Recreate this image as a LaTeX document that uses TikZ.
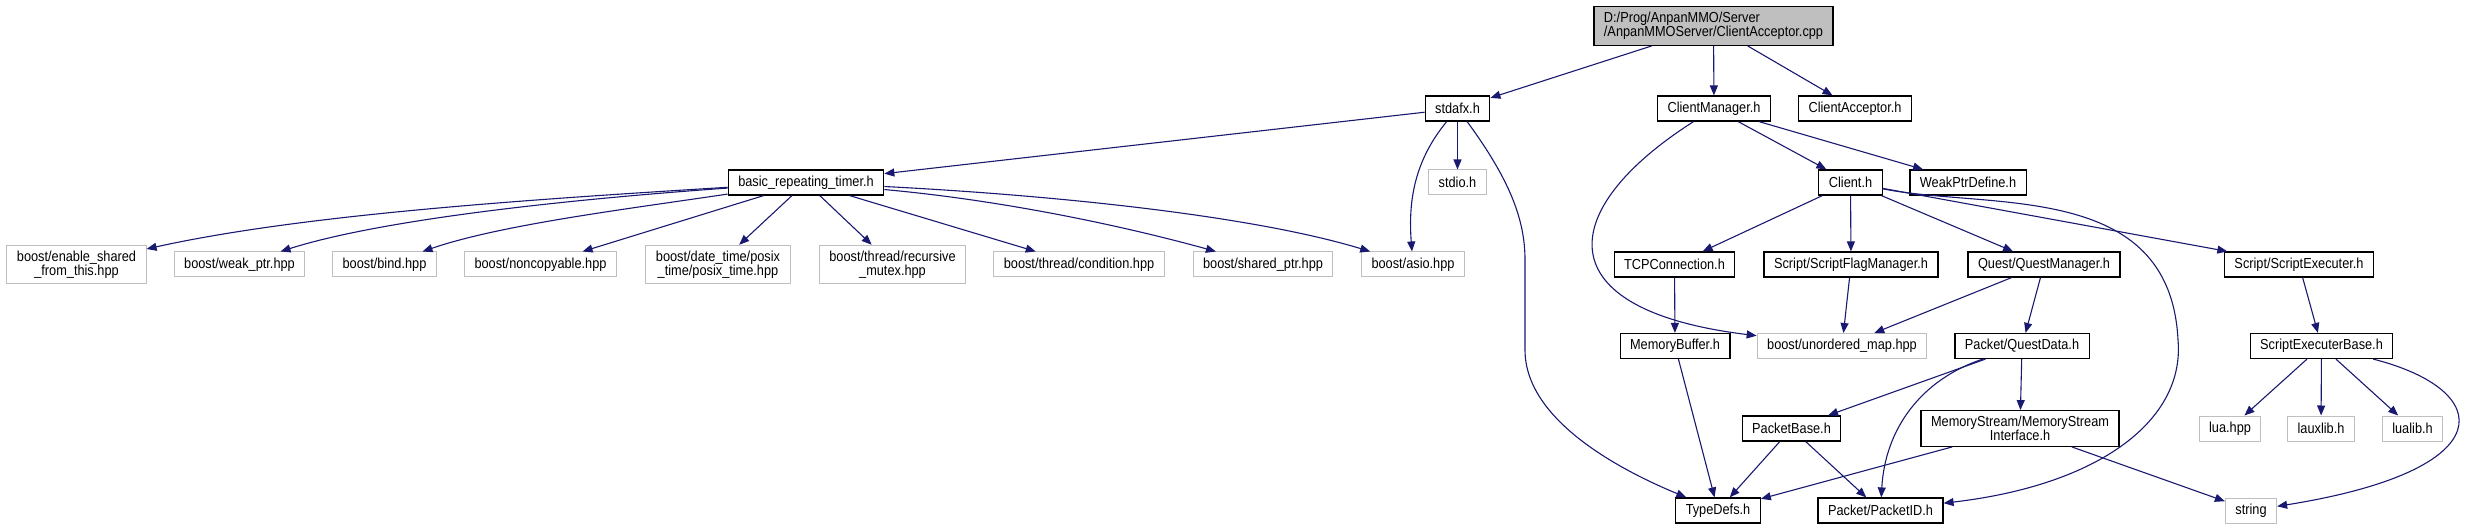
\documentclass[tikz,border=0pt]{standalone}
\usepackage{fontspec}
\setmainfont{Liberation Sans}[FakeStretch=0.88]
\usetikzlibrary{arrows.meta}
\definecolor{edgeblue}{HTML}{191970}
\definecolor{extgray}{HTML}{BFBFBF}

\begin{document}
\begin{tikzpicture}[
  x=1pt, y=-1pt,
  file/.style={rectangle, draw=black, fill=white, line width=1.2pt,
    minimum height=25pt, inner xsep=10pt, inner ysep=5.5pt, align=center,
    font=\fontsize{14.5}{14}\selectfont},
  ext/.style={file, draw=extgray, line width=1pt},
  rootfile/.style={file, fill=extgray, align=left},
  arr/.style={-{Triangle[length=10pt,width=8pt]}, line width=1.1pt, draw=edgeblue},
]
  \useasboundingbox (0,0) rectangle (2470,529);

  % top levels
  \node[rootfile] (root) at (1713.5,26) {D:/Prog/AnpanMMO/Server\\/AnpanMMOServer/ClientAcceptor.cpp};
  \node[file] (stdafx) at (1457.5,108.5) {stdafx.h};
  \node[file] (cmgr) at (1714,108.5) {ClientManager.h};
  \node[file] (cacc) at (1855,108.5) {ClientAcceptor.h};
  \node[file] (brt) at (806,182.5) {basic\_repeating\_timer.h};
  \node[ext] (stdio) at (1457.5,182.5) {stdio.h};
  \node[file] (client) at (1850.5,182.5) {Client.h};
  \node[file] (wptr) at (1968,182.5) {WeakPtrDefine.h};

  % boost row
  \node[ext] (esft) at (76.5,264.5) {boost/enable\_shared\\\_from\_this.hpp};
  \node[ext] (wkptr) at (239.5,264.5) {boost/weak\_ptr.hpp};
  \node[ext] (bind) at (384.5,264.5) {boost/bind.hpp};
  \node[ext] (noncp) at (540.5,264.5) {boost/noncopyable.hpp};
  \node[ext] (ptime) at (718,264.5) {boost/date\_time/posix\\\_time/posix\_time.hpp};
  \node[ext] (rmutex) at (892.5,264.5) {boost/thread/recursive\\\_mutex.hpp};
  \node[ext] (cond) at (1079,264.5) {boost/thread/condition.hpp};
  \node[ext] (sptr) at (1263,264.5) {boost/shared\_ptr.hpp};
  \node[ext] (asio) at (1413,264.5) {boost/asio.hpp};
  \node[file] (tcp) at (1674.5,264.5) {TCPConnection.h};
  \node[file] (sfm) at (1851,264.5) {Script/ScriptFlagManager.h};
  \node[file] (qmgr) at (2044,264.5) {Quest/QuestManager.h};
  \node[file] (sexe) at (2299,264.5) {Script/ScriptExecuter.h};

  \node[file] (mbuf) at (1675,346) {MemoryBuffer.h};
  \node[ext] (umap) at (1842,346) {boost/unordered\_map.hpp};
  \node[file] (qdata) at (2022,346) {Packet/QuestData.h};
  \node[file] (sebase) at (2321.5,346) {ScriptExecuterBase.h};

  \node[file] (pbase) at (1791.5,428.5) {PacketBase.h};
  \node[file] (msif) at (2020,428.5) {MemoryStream/MemoryStream\\Interface.h};
  \node[ext] (lua) at (2230,428.5) {lua.hpp};
  \node[ext] (lauxlib) at (2321,428.5) {lauxlib.h};
  \node[ext] (lualib) at (2412.5,428.5) {lualib.h};

  \node[file] (tdefs) at (1718,510.5) {TypeDefs.h};
  \node[file] (pid) at (1880.5,510.5) {Packet/PacketID.h};
  \node[ext] (str) at (2251,510.5) {string};

  % includes
  \draw[arr] (root) -- (stdafx);
  \draw[arr] (root) -- (cmgr);
  \draw[arr] (root) -- (cacc);
  \draw[arr] (stdafx) -- (brt);
  \draw[arr] (stdafx) -- (stdio);
  \draw[arr] (stdafx) .. controls (1415,160) and (1408,200) .. (asio);
  \draw[arr] (stdafx) .. controls (1510,180) and (1525,220) .. (1525,260)
    -- (1525,350) .. controls (1525,420) and (1620,470) .. (tdefs);

  \draw[arr] (brt) .. controls (520,200) and (300,215) .. (esft);
  \draw[arr] (brt) .. controls (560,200) and (380,220) .. (wkptr);
  \draw[arr] (brt) .. controls (620,210) and (500,225) .. (bind);
  \draw[arr] (brt) -- (noncp);
  \draw[arr] (brt) -- (ptime);
  \draw[arr] (brt) -- (rmutex);
  \draw[arr] (brt) -- (cond);
  \draw[arr] (brt) .. controls (1000,200) and (1120,225) .. (sptr);
  \draw[arr] (brt) .. controls (1050,195) and (1250,215) .. (asio);

  \draw[arr] (cmgr) .. controls (1555,210) and (1545,310) .. (umap);
  \draw[arr] (cmgr) -- (client);
  \draw[arr] (cmgr) -- (wptr);

  \draw[arr] (client) -- (tcp);
  \draw[arr] (client) -- (sfm);
  \draw[arr] (client) -- (qmgr);
  \draw[arr] (client) -- (sexe);
  \draw[arr] (client) .. controls (1990,210) and (2170,180) .. (2178,340)
    .. controls (2185,420) and (2100,485) .. (pid);

  \draw[arr] (tcp) -- (mbuf);
  \draw[arr] (sfm) -- (umap);
  \draw[arr] (qmgr) -- (umap);
  \draw[arr] (qmgr) -- (qdata);
  \draw[arr] (sexe) -- (sebase);
  \draw[arr] (mbuf) -- (tdefs);

  \draw[arr] (qdata) -- (pbase);
  \draw[arr] (qdata) -- (msif);
  \draw[arr] (qdata) .. controls (1920,380) and (1885,430) .. (pid);

  \draw[arr] (pbase) -- (tdefs);
  \draw[arr] (pbase) -- (pid);
  \draw[arr] (msif) -- (tdefs);
  \draw[arr] (msif) -- (str);

  \draw[arr] (sebase) -- (lua);
  \draw[arr] (sebase) -- (lauxlib);
  \draw[arr] (sebase) -- (lualib);
  \draw[arr] (sebase) .. controls (2495,390) and (2505,470) .. (str);
\end{tikzpicture}
\end{document}
